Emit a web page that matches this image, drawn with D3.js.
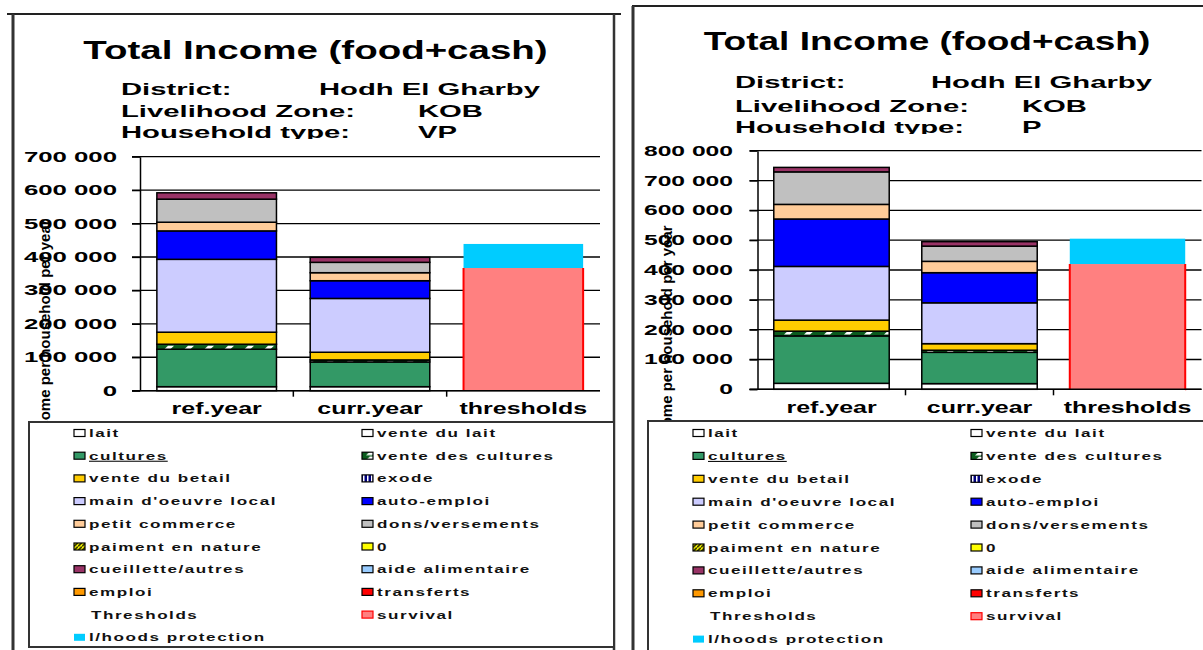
<!DOCTYPE html>
<html>
<head>
<meta charset="utf-8">
<script src="https://cdn.jsdelivr.net/npm/d3@7"></script>
<style>
  body { margin: 0; background: #fff; }
  svg { display: block; font-family: "Liberation Sans", Arial, sans-serif; }
</style>
</head>
<body>
<script>
// x categories
const categories = ["ref.year", "curr.year", "thresholds"];

// income sources, stacked bottom to top (same order as in the legend)
const incomeSources = ["lait", "vente du lait", "cultures", "vente des cultures",
  "vente du betail", "exode", "main d'oeuvre local", "auto-emploi",
  "petit commerce", "dons/versements", "paiment en nature", "0",
  "cueillette/autres", "aide alimentaire", "emploi", "transferts"];
const thresholdSeries = ["survival", "l/hoods protection"];

// household type VP
const vpRefYear    = [12000, 0, 112000, 15000, 36000, 0, 218000, 85000, 26000, 69000, 0, 0, 19000, 0, 0, 0];
const vpCurrYear   = [12000, 0, 74000, 6000, 23000, 0, 161000, 53000, 24000, 31000, 0, 0, 15000, 0, 0, 0];
const vpThresholds = [367000, 72000];
const vpYTicks = [0, 100000, 200000, 300000, 400000, 500000, 600000, 700000];

// household type P
const pRefYear    = [20000, 0, 159000, 16000, 37000, 0, 180000, 159000, 49000, 109000, 0, 0, 15000, 0, 0, 0];
const pCurrYear   = [19000, 0, 105000, 7000, 22000, 0, 137000, 101000, 38000, 51000, 0, 0, 15000, 0, 0, 0];
const pThresholds = [420000, 85000];
const pYTicks = [0, 100000, 200000, 300000, 400000, 500000, 600000, 700000, 800000];

// header texts
const chartTitle = "Total Income (food+cash)";
const headerLabels = ["District:", "Livelihood Zone:", "Household type:"];
const vpHeader = ["Hodh El Gharby", "KOB", "VP"];
const pHeader  = ["Hodh El Gharby", "KOB", "P"];
const yTitle = "Income per household per year";

const fills = {
  "lait": "#FFFFFF", "vente du lait": "#FFFFFF", "cultures": "#339966",
  "vente des cultures": "url(#pat-vdc)", "vente du betail": "#FFCC00",
  "exode": "url(#pat-exode)", "main d'oeuvre local": "#CCCCFF", "auto-emploi": "#0000FF",
  "petit commerce": "#FFCC99", "dons/versements": "#C0C0C0",
  "paiment en nature": "url(#pat-paie)", "0": "#FFFF00", "cueillette/autres": "#993366",
  "aide alimentaire": "#99CCFF", "emploi": "#FF9900", "transferts": "#FF0000",
  "survival": "#FF8080", "l/hoods protection": "#00CCFF"
};
const strokes = { "survival": "#FF0000", "l/hoods protection": "none" };

const panels = [
  { id: "vp", values: [vpRefYear, vpCurrYear, vpThresholds], header: vpHeader,
    ticks: vpYTicks, max: 700000, x0: 140, x1: 600, yTop: 156.7, yBottom: 390.7,
    tickPad: 15, tickStretch: 1.84, labelY: 414,
    titleX: 315.5, titleY: 59, titleSize: 26,
    labelX: 121, valueX: [319, 418, 418], headY: [95, 117, 138], clipY: 139,
    yTitleX: 50, yTitleY: 442,
    legend: { x: 29, y: 422, w: 585, h: 225, cols: [74, 362], row0: 433, step: 22.7 },
    frame: { top: 14, tx0: 7, tx1: 621, left: 13, right: 614 } },
  { id: "p", values: [pRefYear, pCurrYear, pThresholds], header: pHeader,
    ticks: pYTicks, max: 800000, x0: 757.5, x1: 1201.5, yTop: 150.7, yBottom: 389.3,
    tickPad: 16.5, tickStretch: 1.76, labelY: 413,
    titleX: 927, titleY: 50, titleSize: 25,
    labelX: 735, valueX: [931, 1022, 1022], headY: [88, 112, 133], clipY: 134,
    yTitleX: 672, yTitleY: 448,
    legend: { x: 648, y: 421, w: 570, h: 240, cols: [693, 971], row0: 433, step: 22.9 },
    frame: { top: 6, tx0: 632, tx1: 1203, left: 633, right: null } }
];

function stretch(sel, k, adjust) {
  sel.each(function () {
    const w = this.getComputedTextLength();
    d3.select(this).attr("textLength", w * k).attr("lengthAdjust", adjust || "spacingAndGlyphs");
  });
}

const svg = d3.select("body").append("svg").attr("width", 1203).attr("height", 650);
const defs = svg.append("defs");

const pv = defs.append("pattern").attr("id", "pat-vdc").attr("patternUnits", "userSpaceOnUse")
  .attr("width", 20).attr("height", 5);
pv.append("rect").attr("width", 20).attr("height", 5).attr("fill", "#0B5D1E");
pv.append("polygon").attr("points", "4,4.5 8,0.8 14,0.8 10,4.5").attr("fill", "#fff");

const pe = defs.append("pattern").attr("id", "pat-exode").attr("patternUnits", "userSpaceOnUse")
  .attr("width", 4).attr("height", 4);
pe.append("rect").attr("width", 4).attr("height", 4).attr("fill", "#000080");
pe.append("rect").attr("x", 1).attr("width", 1.5).attr("height", 4).attr("fill", "#fff");

const pp = defs.append("pattern").attr("id", "pat-paie").attr("patternUnits", "userSpaceOnUse")
  .attr("width", 4).attr("height", 4);
pp.append("rect").attr("width", 4).attr("height", 4).attr("fill", "#FFFF00");
pp.append("path").attr("d", "M0,4 L4,0").attr("stroke", "#000").attr("stroke-width", 1.3);

const fmt = d => d3.format(",")(d).replace(/,/g, " ");

panels.forEach(p => {
  const g = svg.append("g");

  // frame of the pasted chart
  const f = p.frame;
  g.append("line").attr("x1", f.tx0).attr("x2", f.tx1).attr("y1", f.top).attr("y2", f.top)
    .attr("stroke", "#222").attr("stroke-width", 2);
  g.append("line").attr("x1", f.left).attr("x2", f.left).attr("y1", f.top).attr("y2", 650)
    .attr("stroke", "#333").attr("stroke-width", 3);
  if (f.right) {
    g.append("line").attr("x1", f.right).attr("x2", f.right).attr("y1", f.top).attr("y2", 650)
      .attr("stroke", "#333").attr("stroke-width", 2.5);
  }

  // header
  defs.append("clipPath").attr("id", "clip-" + p.id).append("rect")
    .attr("x", 0).attr("y", 0).attr("width", 1203).attr("height", p.clipY);
  const head = g.append("g").attr("clip-path", "url(#clip-" + p.id + ")");
  head.append("text").attr("x", p.titleX).attr("y", p.titleY).attr("text-anchor", "middle")
    .attr("font-size", p.titleSize).attr("font-weight", 900).text(chartTitle)
    .call(stretch, 1.48);
  headerLabels.forEach((lab, i) => {
    head.append("text").attr("x", p.labelX).attr("y", p.headY[i])
      .attr("font-size", 17).attr("font-weight", "bold").text(lab).call(stretch, 1.72);
    head.append("text").attr("x", p.valueX[i]).attr("y", p.headY[i])
      .attr("font-size", 17).attr("font-weight", "bold").text(p.header[i]).call(stretch, 1.72);
  });

  // scales
  const table = categories.map((c, i) => {
    const row = { category: c };
    incomeSources.forEach((s, j) => row[s] = i < 2 ? p.values[i][j] : 0);
    thresholdSeries.forEach((s, j) => row[s] = i === 2 ? p.values[2][j] : 0);
    return row;
  });
  const stacked = d3.stack().keys(incomeSources.concat(thresholdSeries))(table);

  const x = d3.scaleBand().domain(categories).range([p.x0, p.x1])
    .paddingInner(0.22).paddingOuter(0.11);
  const y = d3.scaleLinear().domain([0, p.max]).range([p.yBottom, p.yTop]);

  // gridlines
  g.append("g").selectAll("line").data(p.ticks).join("line")
    .attr("x1", p.x0 - 8).attr("x2", p.x1)
    .attr("y1", d => y(d)).attr("y2", d => y(d))
    .attr("stroke", "#000").attr("stroke-width", 1.3);

  // stacked bars
  const w = x.bandwidth();
  g.append("g").selectAll("g").data(stacked).join("g")
    .attr("fill", d => fills[d.key])
    .attr("stroke", d => strokes[d.key] || "#000")
    .attr("stroke-width", d => d.key === "survival" ? 2 : 1.5)
    .selectAll("rect").data(d => d.filter(v => v[1] > v[0]).map(v => Object.assign(v, { key: d.key })))
    .join("rect")
    .attr("x", d => x(d.data.category))
    .attr("width", w)
    .attr("y", d => y(d[1]))
    .attr("height", d => y(d[0]) - y(d[1]))
    // survival: red sides only, no red line on top
    .attr("stroke-dasharray", d => {
      if (d.key !== "survival") return null;
      const h = y(d[0]) - y(d[1]);
      return `0,${w},${h},${w},${h}`;
    });

  // y axis
  const yAxis = g.append("g").attr("transform", `translate(${p.x0},0)`)
    .call(d3.axisLeft(y).tickValues(p.ticks).tickSize(8).tickSizeOuter(0)
      .tickPadding(p.tickPad).tickFormat(fmt));
  yAxis.select(".domain").attr("stroke", "#000").attr("stroke-width", 1.5);
  yAxis.selectAll(".tick line").attr("stroke", "#000").attr("stroke-width", 1.3);
  yAxis.selectAll(".tick text").attr("font-size", 14).attr("font-weight", "bold")
    .attr("font-family", "Liberation Sans, Arial, sans-serif").attr("fill", "#000")
    .call(stretch, p.tickStretch);

  // x axis
  const y0 = y(0);
  g.append("line").attr("x1", p.x0 - 8).attr("x2", p.x1).attr("y1", y0).attr("y2", y0)
    .attr("stroke", "#000").attr("stroke-width", 1.5);
  g.append("g").selectAll("line").data(categories.slice(1)).join("line")
    .attr("x1", d => x(d) - x.step() * x.paddingInner() / 2)
    .attr("x2", d => x(d) - x.step() * x.paddingInner() / 2)
    .attr("y1", y0).attr("y2", y0 + 6).attr("stroke", "#000").attr("stroke-width", 1.5);
  const xAxis = g.append("g").attr("transform", `translate(0,${y0})`)
    .call(d3.axisBottom(x).tickSize(0));
  xAxis.select(".domain").remove();
  xAxis.selectAll(".tick text").attr("y", p.labelY - y0).attr("dy", null)
    .attr("font-size", 16).attr("font-weight", "bold").attr("fill", "#000")
    .attr("font-family", "Liberation Sans, Arial, sans-serif")
    .call(stretch, 1.56);

  // y axis title (partly hidden by the legend, as in the original)
  g.append("text").attr("transform", `translate(${p.yTitleX},${p.yTitleY}) rotate(-90)`)
    .attr("font-size", 15).attr("font-weight", "bold").attr("fill", "#000").text(yTitle);

  // legend
  const L = p.legend;
  g.append("rect").attr("x", L.x).attr("y", L.y).attr("width", L.w).attr("height", L.h)
    .attr("fill", "#fff").attr("stroke", "#333").attr("stroke-width", 2);
  const entries = incomeSources.concat(["Thresholds"], thresholdSeries);
  const items = g.append("g").selectAll("g").data(entries).join("g")
    .attr("transform", (d, i) => `translate(${L.cols[i % 2]},${L.row0 + Math.floor(i / 2) * L.step})`);
  items.filter(d => d !== "Thresholds").append("rect")
    .attr("x", 0).attr("y", -3.5).attr("width", 11).attr("height", 7)
    .attr("fill", d => fills[d])
    .attr("stroke", d => strokes[d] || "#000").attr("stroke-width", 1.2);
  items.append("text").attr("x", d => d === "Thresholds" ? 17 : 15).attr("y", 4)
    .attr("font-size", 11).attr("font-weight", "bold").attr("fill", "#111")
    .attr("letter-spacing", 1)
    .attr("text-decoration", d => d === "cultures" ? "underline" : null)
    .text(d => d)
    .call(stretch, 1.55);
});
</script>
</body>
</html>
